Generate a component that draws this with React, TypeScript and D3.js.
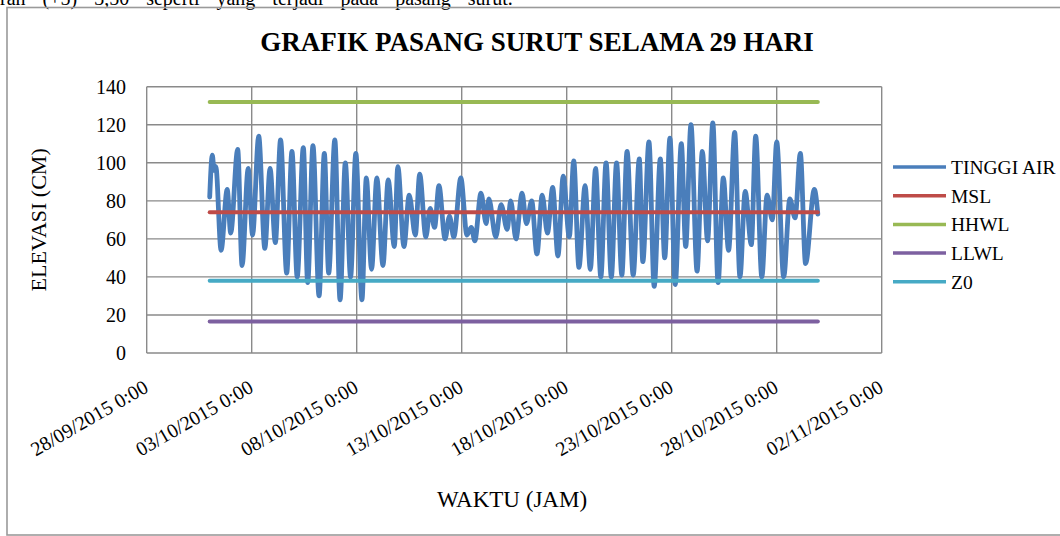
import * as d3 from 'd3';

// start of the record: 01/10/2015 0:00
const START = Date.UTC(2015, 9, 1, 0, 0);

// turning points of the measured water level: hours after START, elevation (cm)
const tideHours = [
  0, 3, 5, 7, 13, 20, 24, 32, 37, 44, 49, 56, 63, 69, 75, 81, 88, 94, 100, 107,
  112, 118, 125, 131, 136, 143, 149, 155, 161, 167, 174, 179, 185, 191, 198, 204,
  211, 215, 222, 228, 235, 240, 247, 252, 257, 262, 269, 274, 279, 287, 294, 299,
  303, 310, 316, 319, 327, 333, 340, 344, 350, 357, 362, 368, 374, 380, 386, 392,
  398, 404, 411, 416, 422, 429, 435, 441, 447, 453, 459, 465, 471, 477, 484, 491,
  495, 502, 508, 515, 520, 526, 532, 539, 544, 550, 557, 563, 569, 575, 581, 587,
  593, 600, 606, 612, 619, 624, 631, 637, 643, 648, 656, 663, 669, 675, 681, 691,
  695,
];
const tideLevels = [
  82, 104, 96, 98, 54, 86, 63, 107, 46, 97, 62, 114, 55, 97, 58, 112, 42, 106, 40, 108,
  37, 109, 30, 105, 42, 112, 28, 100, 40, 105, 28, 92, 44, 92, 46, 91,
  56, 98, 56, 83, 62, 94, 61, 76, 66, 88, 60, 72, 61, 92, 62, 66,
  59, 84, 68, 81, 61, 78, 65, 80, 60, 84, 68, 80, 52, 83, 63, 87,
  51, 93, 61, 101, 45, 88, 44, 97, 40, 100, 40, 100, 41, 106, 41, 102,
  48, 111, 35, 102, 50, 113, 36, 110, 56, 120, 43, 106, 59, 121, 37, 92,
  54, 116, 40, 85, 57, 114, 40, 83, 70, 111, 40, 81, 71, 105, 47, 86,
  73,
];

// constant datum levels (cm)
const levelNames = ['MSL', 'HHWL', 'LLWL', 'Z0'];
const levelValues = [74, 132, 16.5, 38];

const legendNames = ['TINGGI AIR', 'MSL', 'HHWL', 'LLWL', 'Z0'];
const xTickLabels = [
  '28/09/2015', '03/10/2015', '08/10/2015', '13/10/2015',
  '18/10/2015', '23/10/2015', '28/10/2015', '02/11/2015',
];
const yTickValues = [0, 20, 40, 60, 80, 100, 120, 140];

const COLORS: Record<string, string> = {
  'TINGGI AIR': '#4a7ebb',
  MSL: '#be4b48',
  HHWL: '#98b954',
  LLWL: '#7d60a0',
  Z0: '#46aac5',
};

const FONT = 'Liberation Serif, DejaVu Serif, serif';
const W = 1060;
const H = 536;
const left = 146.7, right = 881.7, top = 86.7, bottom = 353;

const parseDay = d3.utcParse('%d/%m/%Y');

export default function App() {
  const x = d3.scaleUtc()
    .domain([parseDay(xTickLabels[0])!, parseDay(xTickLabels[xTickLabels.length - 1])!])
    .range([left, right]);
  const y = d3.scaleLinear().domain([0, 140]).range([bottom, top]);

  const tide = tideHours.map((h, i) => ({ t: new Date(START + h * 3600e3), v: tideLevels[i] }));
  const t0 = tide[0].t;
  const t1 = tide[tide.length - 1].t;

  const line = d3.line<{ t: Date; v: number }>()
    .x(d => x(d.t))
    .y(d => y(d.v))
    .curve(d3.curveMonotoneX);

  const grid = '#8a8a8a';

  return (
    <svg width={W} height={H} style={{ position: 'absolute', left: 0, top: 0, background: '#fff', fontFamily: FONT }}>
      {/* running text above the figure, cut by the page edge */}
      <text x={0} y={5} fontSize={20} style={{ wordSpacing: '12px' }}>
        ran (+5) 3,50 seperti yang terjadi pada pasang surut.
      </text>

      {/* chart frame */}
      <rect x={7} y={7.5} width={1070} height={527.5} fill="none" stroke="#9a9a9a" strokeWidth={1.6} />

      <text x={537} y={51} textAnchor="middle" fontSize={27} fontWeight="bold">
        GRAFIK PASANG SURUT SELAMA 29 HARI
      </text>

      {/* gridlines */}
      {yTickValues.map(v => (
        <line key={'h' + v} x1={left} x2={right} y1={y(v)} y2={y(v)} stroke={grid} strokeWidth={1.4} />
      ))}
      {xTickLabels.map(d => {
        const px = x(parseDay(d)!);
        return <line key={'v' + d} x1={px} x2={px} y1={top} y2={bottom} stroke={grid} strokeWidth={1.4} />;
      })}

      {/* y tick labels */}
      {yTickValues.map(v => (
        <text key={'yl' + v} x={126} y={y(v)} dy="0.35em" textAnchor="end" fontSize={20}>{v}</text>
      ))}

      {/* x tick labels */}
      {xTickLabels.map(d => {
        const px = x(parseDay(d)!) + 3;
        const py = 391;
        return (
          <text key={'xl' + d} x={px} y={py} textAnchor="end" fontSize={20}
            transform={`rotate(-30, ${px}, ${py})`}>{d + ' 0:00'}</text>
        );
      })}

      <text transform={`translate(46, ${(top + bottom) / 2}) rotate(-90)`} textAnchor="middle" fontSize={22}>
        ELEVASI (CM)
      </text>
      <text x={512} y={507} textAnchor="middle" fontSize={23}>WAKTU (JAM)</text>

      {/* series */}
      <path d={line(tide)!} fill="none" stroke={COLORS['TINGGI AIR']} strokeWidth={4.8}
        strokeLinejoin="round" strokeLinecap="round" />
      {levelNames.map((n, i) => (
        <line key={n} x1={x(t0)} x2={x(t1)} y1={y(levelValues[i])} y2={y(levelValues[i])}
          stroke={COLORS[n]} strokeWidth={4} strokeLinecap="round" />
      ))}

      {/* legend */}
      {legendNames.map((n, i) => {
        const ly = 167 + i * 28.7;
        return (
          <g key={'lg' + n}>
            <line x1={893} x2={946} y1={ly} y2={ly} stroke={COLORS[n]} strokeWidth={3.5} />
            <text x={951} y={ly} dy="0.35em" fontSize={19.5}>{n}</text>
          </g>
        );
      })}
    </svg>
  );
}
